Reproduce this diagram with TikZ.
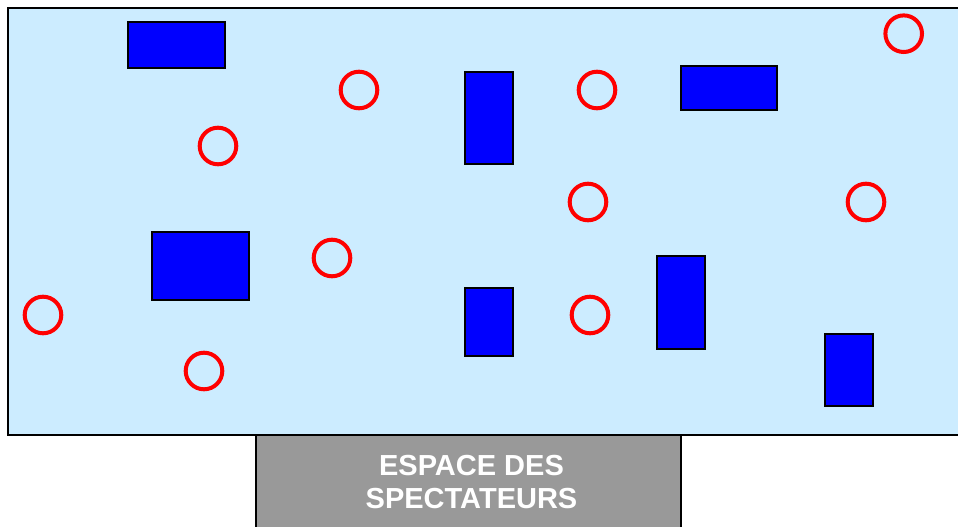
\documentclass[tikz,border=0pt]{standalone}
\usepackage{fontspec}
\setmainfont{Liberation Sans}
\definecolor{stage}{HTML}{CCECFF}
\definecolor{pblue}{HTML}{0000FF}
\definecolor{pred}{HTML}{FF0000}
\definecolor{pgray}{HTML}{999999}
\tikzset{
  blk/.style={draw=black, line width=2pt, fill=pblue, inner sep=0pt, outer sep=0pt},
  ring/.style={circle, draw=pred, line width=4pt, minimum size=36.6pt, inner sep=0pt},
  area/.style={draw=black, line width=2pt, fill=stage, inner sep=0pt, outer sep=0pt},
  specbox/.style={draw=black, line width=2pt, fill=pgray, inner sep=0pt, outer sep=0pt},
}
\begin{document}
\begin{tikzpicture}[x=1pt,y=-1pt]
\useasboundingbox (0,0) rectangle (958,527);
\clip (0,0) rectangle (958,527);
% stage area
\node[area, minimum width=962pt, minimum height=427.3pt, anchor=north west] (stagearea) at (8.3,7.7) {};
% spectator box
\node[specbox, minimum width=424.5pt, minimum height=100pt, anchor=north west] (spect) at (256,435) {};
\node[text=white, font=\bfseries\fontsize{29}{33}\selectfont, align=center, anchor=base] (spectlbl) at (471.5,508) {ESPACE DES\\SPECTATEURS};
% blue rectangles
\node[blk, minimum width=97pt, minimum height=46pt] (r1) at (176.5,45) {};
\node[blk, minimum width=48pt, minimum height=92.5pt] (r2) at (489,117.8) {};
\node[blk, minimum width=96pt, minimum height=44pt] (r3) at (729,88) {};
\node[blk, minimum width=97pt, minimum height=68pt] (r4) at (200.5,266) {};
\node[blk, minimum width=48pt, minimum height=68pt] (r5) at (489,322) {};
\node[blk, minimum width=48pt, minimum height=93pt] (r6) at (681,302.5) {};
\node[blk, minimum width=48pt, minimum height=72pt] (r7) at (849,370) {};
% red rings
\node[ring] (c1) at (359,90) {};
\node[ring] (c2) at (218,146) {};
\node[ring] (c3) at (597,90) {};
\node[ring] (c4) at (903.7,33.7) {};
\node[ring] (c5) at (588,202) {};
\node[ring] (c6) at (866,202) {};
\node[ring] (c7) at (332,258) {};
\node[ring] (c8) at (43,315) {};
\node[ring] (c9) at (590,315) {};
\node[ring] (c10) at (204,371) {};
\end{tikzpicture}
\end{document}
